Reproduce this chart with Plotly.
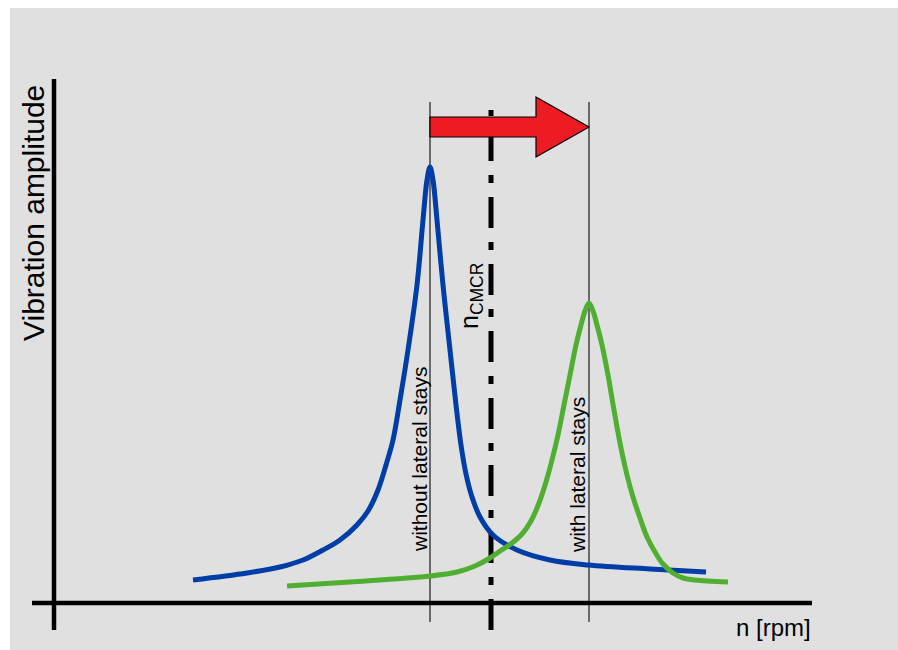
import plotly.graph_objects as go

# ---- data (speed n in chart units, amplitude in chart units) ----
n_without = [139, 193, 226, 249, 269, 286, 303, 314, 324, 332, 339, 346, 354, 363, 369, 373,
             376, 379, 383, 389, 396, 402, 407, 412, 418, 426, 439, 463, 496, 534, 596, 652]
amp_without = [23, 30, 36, 43, 53, 63, 78, 92, 113, 138, 163, 203, 253, 318, 383, 423,
               436, 423, 383, 318, 253, 198, 158, 129, 106, 86, 68, 53, 43, 38, 34, 31]

n_with = [233, 296, 376, 403, 421, 436, 446, 458, 468, 477, 485, 492, 498, 504, 510, 516,
          522, 527, 531, 535, 539, 543, 548, 554, 560, 566, 573, 579, 586, 593, 601, 609,
          619, 629, 641, 674]
amp_with = [17, 21, 27, 31, 37, 45, 52, 60, 69, 82, 100, 121, 143, 168, 198, 228,
            258, 278, 292, 300, 292, 278, 258, 228, 193, 160, 128, 106, 85, 66, 51, 39,
            30, 25, 23, 21]

n_cmcr = 437

label_without = "without lateral stays"
label_with = "with lateral stays"
label_cmcr = "n<sub>CMCR</sub>"
x_title = "n [rpm]"
y_title = "Vibration amplitude"

FONT = "Liberation Sans, Arial, sans-serif"
BLUE = "#003da6"
GREEN = "#50ae31"
RED = "#ed1c24"

peak_without = n_without[amp_without.index(max(amp_without))]
peak_with = n_with[amp_with.index(max(amp_with))]

fig = go.Figure()

# thin resonance markers
for xp in (peak_without, peak_with):
    fig.add_trace(go.Scatter(x=[xp, xp], y=[-19, 501], mode="lines",
                             line=dict(color="#2a2a2a", width=1.3), hoverinfo="skip"))

# n_CMCR dash-dot line
fig.add_trace(go.Scatter(x=[n_cmcr, n_cmcr], y=[-27, 493], mode="lines",
                         line=dict(color="black", width=5, dash="31px,14px,8px,14px"),
                         hoverinfo="skip"))

# axes
fig.add_trace(go.Scatter(x=[0, 0], y=[-27, 524], mode="lines",
                         line=dict(color="black", width=4.5), hoverinfo="skip"))
fig.add_trace(go.Scatter(x=[-22, 758], y=[0, 0], mode="lines",
                         line=dict(color="black", width=4.5), hoverinfo="skip"))

# curves
fig.add_trace(go.Scatter(x=n_without, y=amp_without, mode="lines",
                         line=dict(color=BLUE, width=5, shape="spline", smoothing=1.0)))
fig.add_trace(go.Scatter(x=n_with, y=amp_with, mode="lines",
                         line=dict(color=GREEN, width=5, shape="spline", smoothing=1.0)))

# red arrow from one resonance to the other
ay = 476
shaft, head, head_len = 10, 30, 53
xh = peak_with - head_len
path = (f"M {peak_without},{ay + shaft} L {xh},{ay + shaft} L {xh},{ay + head} "
        f"L {peak_with},{ay} L {xh},{ay - head} L {xh},{ay - shaft} "
        f"L {peak_without},{ay - shaft} Z")
fig.add_shape(type="path", path=path, xref="x", yref="y",
              fillcolor=RED, line=dict(color="black", width=1.2), layer="above")

# texts
fig.add_annotation(x=-21, y=390, text=y_title, textangle=-90, showarrow=False,
                   font=dict(family=FONT, size=30, color="black"))
fig.add_annotation(x=719, y=-24, text=x_title, showarrow=False,
                   font=dict(family=FONT, size=24, color="black"))
fig.add_annotation(x=365, y=143, text=label_without, textangle=-90, showarrow=False,
                   font=dict(family=FONT, size=21, color="black"))
fig.add_annotation(x=523, y=128, text=label_with, textangle=-90, showarrow=False,
                   font=dict(family=FONT, size=21, color="black"))
fig.add_annotation(x=417, y=307, text=label_cmcr, textangle=-90, showarrow=False,
                   font=dict(family=FONT, size=25, color="black"))

fig.update_layout(
    width=898, height=650,
    margin=dict(l=10, r=0, t=8, b=0),
    paper_bgcolor="white", plot_bgcolor="#e0e0e0",
    showlegend=False,
    xaxis=dict(range=[-44, 844], visible=False, fixedrange=True),
    yaxis=dict(range=[-47, 595], visible=False, fixedrange=True),
)

fig.write_html(
    "out.html",
    config={"displayModeBar": False},
    post_script="document.body.style.margin='0';document.body.style.overflow='hidden';",
)
